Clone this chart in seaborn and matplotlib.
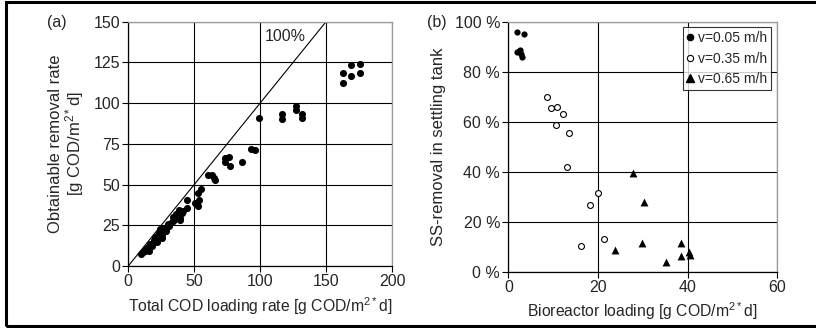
import matplotlib
matplotlib.use("Agg")
import matplotlib.pyplot as plt
import seaborn as sns
import numpy as np
import pandas as pd
from matplotlib.patches import Rectangle
from matplotlib.lines import Line2D
from matplotlib.ticker import FuncFormatter

# -----------------------------
# data
# -----------------------------
# (a) total COD loading vs obtainable removal rate
cod_loading = [9.4, 11.4, 13.4, 15.2, 15.7, 17.7, 18.9, 19.7, 21.5, 22.0, 23.5, 24.0,
               25.6, 26.1, 27.3, 25.3, 28.6, 29.1, 31.1, 32.8, 33.6, 35.4, 37.2, 39.1,
               38.6, 40.4, 41.7, 44.7, 44.9, 39.0, 12.5, 14.5, 16.8, 20.5, 22.8, 24.8,
               27.8, 30.0, 34.5, 36.1,
               50.5, 51.8, 52.8, 53.8, 52.8, 55.1, 60.1, 63.6, 65.2, 65.7,
               73.7, 76.3, 73.7, 76.8, 86.1, 92.9, 96.0, 99.2,
               116.4, 116.4, 127.0, 127.0, 131.6, 131.6,
               162.9, 162.9, 169.2, 169.2, 175.5, 175.5]
cod_removed = [7.4, 8.8, 10.4, 11.9, 9.4, 12.5, 14.3, 16.0, 15.0, 18.0, 20.1, 22.5,
               19.1, 21.5, 23.2, 17.0, 21.3, 23.9, 24.7, 26.8, 30.1, 29.5, 30.9, 29.5,
               34.4, 32.4, 33.8, 35.4, 40.5, 28.5, 9.5, 10.8, 13.5, 17.5, 19.0, 21.0,
               22.5, 25.5, 28.0, 31.7,
               38.5, 38.9, 37.0, 40.5, 44.6, 47.5, 55.9, 55.9, 53.8, 52.6,
               66.1, 66.7, 64.0, 61.4, 63.6, 71.6, 71.0, 91.1,
               93.5, 90.4, 98.2, 95.8, 93.5, 91.1,
               118.7, 112.3, 123.4, 116.8, 124.2, 118.7]

# (b) bioreactor loading vs SS removal in settling tank [%]
load_005 = [2.0, 3.4, 1.9, 2.5, 2.8, 3.0, 2.3]
ss_005 = [96.1, 95.3, 88.2, 89.0, 87.5, 86.0, 88.5]
load_035 = [8.6, 9.5, 10.9, 12.1, 10.7, 13.5, 13.0, 20.1, 18.2, 21.3, 16.2]
ss_035 = [70.1, 65.5, 65.9, 63.2, 58.7, 55.5, 42.2, 31.6, 26.9, 13.2, 10.4]
load_065 = [27.8, 30.2, 23.7, 29.8, 35.2, 38.6, 38.6, 40.4, 40.6]
ss_065 = [39.4, 27.9, 8.6, 11.4, 3.7, 11.5, 6.5, 8.0, 6.7]
series_labels = ['v=0.05 m/h', 'v=0.35 m/h', 'v=0.65 m/h']

sns.set_style('white')
plt.rcParams['font.family'] = ['Liberation Sans', 'DejaVu Sans']
plt.rcParams['font.size'] = 11.5

unit = r'[g COD/m$\mathregular{^{2*}}$d]'

fig = plt.figure(figsize=(8.16, 3.28), dpi=100)
ax1 = fig.add_axes([0.1572, 0.189, 0.3232, 0.745])
ax2 = fig.add_axes([0.623, 0.1716, 0.3293, 0.760])

def style_axes(ax):
    ax.grid(True, color='black', linewidth=0.8)
    ax.set_axisbelow(True)
    for s in ['top', 'right']:
        ax.spines[s].set_color('#999999')
        ax.spines[s].set_linewidth(0.9)
    for s in ['left', 'bottom']:
        ax.spines[s].set_color('black')
        ax.spines[s].set_linewidth(0.9)
    ax.tick_params(direction='out', length=4, width=0.8, color='black',
                   labelsize=11.5, pad=2, left=True, bottom=True)

# 1. (a) panel
df_a = pd.DataFrame({'load': cod_loading, 'removed': cod_removed})
sns.scatterplot(data=df_a, x='load', y='removed', ax=ax1, color='black',
                s=26, edgecolor='black', linewidth=0, zorder=3)
ax1.plot([0, 150], [0, 150], color='black', linewidth=0.8, zorder=2)
ax1.text(119, 141, '100%', ha='center', va='center', fontsize=11.5)
ax1.set_xlim(0, 200)
ax1.set_ylim(0, 150)
ax1.set_xticks(np.arange(0, 201, 50))
ax1.set_yticks(np.arange(0, 151, 25))
style_axes(ax1)
ax1.set_xlabel('Total COD loading rate ' + unit, fontsize=11.3, labelpad=4)
ax1.set_ylabel('Obtainable removal rate\n' + unit, fontsize=12, labelpad=5,
               linespacing=1.0)

# 2. (b) panel
sns.scatterplot(x=load_005, y=ss_005, ax=ax2, color='black', marker='o',
                s=20, linewidth=0, zorder=3)
sns.scatterplot(x=load_035, y=ss_035, ax=ax2, marker='o', s=18,
                facecolor='white', edgecolor='black', linewidth=0.8, zorder=3)
sns.scatterplot(x=load_065, y=ss_065, ax=ax2, color='black', marker='^',
                s=32, linewidth=0, zorder=3)
ax2.set_xlim(0, 60)
ax2.set_ylim(0, 100)
ax2.set_xticks([0, 20, 40, 60])
ax2.set_yticks(np.arange(0, 101, 20))
ax2.yaxis.set_major_formatter(FuncFormatter(lambda v, p: f'{v:.0f} %'))
style_axes(ax2)
ax2.set_xlabel('Bioreactor loading ' + unit, fontsize=11.3, labelpad=4)
ax2.set_ylabel('SS-removal in settling tank', fontsize=12, labelpad=6)

# legend (markers drawn by hand, like the original)
handles = [
    Line2D([], [], marker='o', linestyle='', color='black', markersize=4.5),
    Line2D([], [], marker='o', linestyle='', markerfacecolor='white',
           markeredgecolor='black', markersize=4.5, markeredgewidth=0.8),
    Line2D([], [], marker='^', linestyle='', color='black', markersize=5.5),
]
leg = ax2.legend(handles, series_labels, loc='upper right',
                 bbox_to_anchor=(0.978, 0.981), fontsize=10, frameon=True,
                 fancybox=False, edgecolor='black', handlelength=0.5,
                 handletextpad=0.3, borderpad=0.3, labelspacing=0.45,
                 borderaxespad=0)
leg.get_frame().set_linewidth(0.8)
leg.set_zorder(5)

# panel labels
fig.text(57 / 816, 1 - 22 / 328, '(a)', ha='center', va='center', fontsize=11.5)
fig.text(437 / 816, 1 - 22 / 328, '(b)', ha='center', va='center', fontsize=11.5)

# outer frame
fig.patches.append(Rectangle((6 / 816, 2 / 328), 1.2, 324 / 328,
                             transform=fig.transFigure, fill=False,
                             edgecolor='black', linewidth=2.2))

fig.savefig('out.png', dpi=100)
plt.close(fig)
